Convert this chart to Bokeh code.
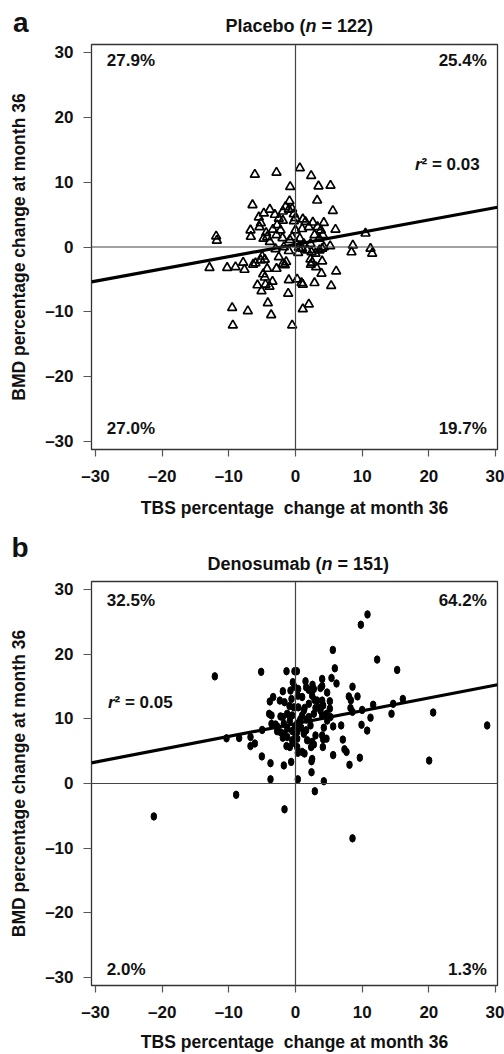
from bokeh.plotting import figure
from bokeh.layouts import column
from bokeh.models import Span, Label, FixedTicker, Range1d
from bokeh.embed import file_html
from bokeh.resources import INLINE

# ---------------- data ----------------
ticks = [-30, -20, -10, 0, 10, 20, 30]
tick_labels = ["\u201330", "\u201320", "\u201310", "0", "10", "20", "30"]

placebo_n = 122
placebo_tbs = [-6.1, -2.85, 0.65, 2.35, -0.8, 3.45, 5.25, 3.25, -6.45, -0.9, 5.6, -3.85, -4.75, -5.5, -3.1,
               -1.9, -1.5, -1.0, -0.5, -0.25, -1.9, 0.0, 1.1, 1.5, 2.6, 3.3, 4.25, -5.4, -2.75, -3.4,
               -6.75, -6.7, -4.4, -2.85, -1.95, -4.8, -3.85, -0.85, 0.0, 0.65, 2.0, 2.85, 3.8, 4.1, 6.0,
               3.55, -11.9, -11.8, 10.5, 5.2, 8.6, 8.4, 11.25, 11.5, 1.0, 1.75, 2.4, 3.6, -1.0, 0.15,
               1.25, 2.25, -5.0, -5.2, -4.6, -2.5, -6.35, -6.0, -7.85, -7.65, -9.0, -10.25, -12.9, -1.9, -1.6,
               -1.4, -2.85, -4.25, -4.85, -4.6, -3.45, -5.7, -4.5, -3.9, -5.1, -1.0, -1.1, 0.25, 0.9, 1.1,
               2.25, 2.5, 2.3, 4.0, 3.1, 3.9, 6.1, 2.85, 5.35, -4.15, -3.65, -9.5, -7.15, -9.4, -0.5,
               1.1, 2.0, 4.0, 3.0, -2.25, -4.25, -0.5, 0.5, -5.2, -2.5, 1.0, -0.25, 4.25, -1.75, 0.4, -3.0]
placebo_bmd = [11.2, 11.5, 12.2, 11.0, 9.3, 9.4, 9.5, 7.2, 6.5, 7.1, 5.6, 5.8, 5.2, 4.6, 5.0,
               5.5, 6.2, 5.8, 5.9, 5.1, 4.1, 4.5, 4.3, 3.9, 3.8, 3.1, 3.75, 3.1, 3.4, 2.7,
               2.6, 1.6, 2.2, 1.85, 1.4, 1.3, 0.8, 1.1, 2.6, 1.3, 3.1, 1.85, 2.6, 1.85, 2.7,
               1.3, 1.65, 1.0, 2.1, 0.15, 0.25, -0.8, -0.25, -1.0, -0.25, -0.5, -0.8, -0.5, -0.6, 0.5,
               0.5, 0.5, -1.45, -2.05, -1.95, -1.55, -2.7, -2.5, -2.4, -3.5, -3.1, -3.2, -3.2, -2.6, -2.8,
               -2.3, -3.35, -3.35, -4.2, -4.7, -5.35, -5.9, -5.8, -6.1, -6.8, -5.1, -7.2, -5.0, -5.55, -5.8,
               -1.9, -2.4, -2.7, -2.2, -3.1, -4.1, -3.75, -5.55, -6.0, -8.65, -10.5, -9.4, -9.9, -12.1, -12.1,
               -9.6, -8.85, -0.25, -1.0, 2.6, 1.55, 1.55, -0.1, 3.7, 4.4, 2.8, 4.0, 0.0, 0.0, -0.9, -0.3]
placebo_fit_x = [-30.6, 30.3]
placebo_fit_y = [-5.4, 6.15]
placebo_quadrants = ["27.9%", "25.4%", "27.0%", "19.7%"]
placebo_r2 = "0.03"

denos_n = 151
denos_tbs = [-21.25, -12.1, -8.9, -1.65, 2.9, 8.55, 10.8, 9.8, 5.6, 12.25, 15.25, 20.65, 20.05, 28.75, -5.15,
             -1.35, -0.15, 0.2, 16.1, 14.65, 14.4, 11.65, 11.25, 9.9, 10.75, 9.65, 8.1, 7.65, 7.35, 7.1,
             6.85, 5.65, 4.25, 2.4, 2.4, 2.5, 0.35, -3.75, -3.75, -1.75, -0.65, -5.05, -10.35, -8.45, -6.75,
             -6.75, -6.1, -5.0, 8.55, 9.3, 8.0, 8.3, 8.25, 8.55, 10.0, 5.9, 4.0, 5.4, 6.15, 4.75,
             4.0, 3.75, 2.55, 2.75, 1.5, 1.6, 2.0, -0.4, -0.15, -0.75, -1.9, -3.35, -3.85, -2.35, -1.65,
             -0.6, 0.35, 1.0, -0.9, -0.25, 1.35, 2.0, 2.85, 4.0, 4.15, 5.15, 5.15, 3.0, 2.75, 4.0,
             4.65, 5.25, 5.65, 4.25, 1.25, 1.0, 0.75, 1.65, 0.25, 0.85, 0.25, -0.85, -1.75, -2.25, -3.95,
             -3.6, -3.6, -3.0, -2.75, -1.25, -1.75, -1.9, -1.25, 0.0, 0.25, -1.35, -0.85, 0.25, 0.35, 1.0,
             1.35, 2.35, 2.5, 3.0, 4.0, 4.15, 4.65, 4.1, 2.75, 1.6, -0.5, -0.5, 0.4, 0.4, 2.5,
             3.25, 3.75, 4.75, -0.1, -0.5, -1.25, -1.9, 2.0, 2.25, 1.25, 1.75, -2.25, -2.75, 3.4, 0.6, -0.3]
denos_bmd = [-5.1, 16.6, -1.75, -4.0, -1.2, -8.5, 26.2, 24.6, 20.7, 19.2, 17.6, 11.0, 3.55, 9.0, 17.3,
             17.4, 17.4, 17.4, 13.1, 12.35, 10.8, 12.2, 10.2, 9.1, 8.2, 4.0, 2.9, 4.9, 5.3, 6.8,
             9.0, 4.4, 0.35, 1.75, 3.45, 3.8, 0.65, 0.65, 3.15, 2.8, 3.35, 4.2, 7.0, 7.05, 7.2,
             5.8, 6.2, 8.3, 15.0, 13.5, 13.5, 12.9, 11.7, 11.1, 11.4, 17.85, 16.2, 16.35, 15.5, 14.1,
             15.1, 14.8, 15.3, 14.65, 15.85, 14.9, 14.5, 15.7, 15.0, 14.4, 14.3, 13.4, 12.7, 12.85, 12.6,
             13.1, 13.6, 13.4, 12.0, 11.8, 11.7, 12.35, 12.95, 12.85, 12.1, 12.75, 11.6, 11.7, 10.8, 10.55,
             10.8, 10.3, 8.85, 8.65, 11.3, 10.55, 10.0, 9.9, 9.25, 8.65, 8.0, 9.75, 9.25, 10.4, 10.8,
             10.55, 9.25, 9.15, 8.85, 8.5, 7.7, 7.1, 7.2, 7.45, 6.95, 5.8, 5.65, 5.65, 4.75, 4.9,
             4.65, 5.65, 6.45, 7.45, 7.45, 6.85, 6.95, 5.65, 6.05, 8.25, 8.15, 10.55, 11.8, 14.65, 13.6,
             12.85, 11.3, 9.75, 8.65, 6.7, 10.8, 10.3, 10.3, 9.0, 7.7, 6.7, 7.95, 8.1, 11.8, 9.6, 6.3]
denos_fit_x = [-30.6, 30.3]
denos_fit_y = [3.2, 15.3]
denos_quadrants = ["32.5%", "64.2%", "2.0%", "1.3%"]
denos_r2 = "0.05"

FONT = "Liberation Sans"
X_RANGE = (-30.6, 30.3)
Y_RANGE = (-31.3, 31.3)
W = 504
LEFT = 91
RIGHT = 7
NB = "\u00a0"


def lab(p, x, y, text, size="17px", align="left", style="bold"):
    p.add_layout(Label(x=x, y=y, text=text, text_font=FONT, text_font_size=size,
                       text_font_style=style, text_align=align, text_baseline="alphabetic",
                       text_color="#111111"))


def make_header(height, letter, letter_y, name, n, n_left, n_right, title_base):
    # frame spans page x = LEFT .. W-RIGHT (aligned with the panels), y = 0 .. height (top down)
    h = figure(width=W, height=height, x_range=Range1d(LEFT, W - RIGHT), y_range=Range1d(height, 0),
               output_backend="svg", toolbar_location=None, x_axis_location=None,
               y_axis_location="left", min_border_left=LEFT, min_border_right=RIGHT,
               min_border_top=0, min_border_bottom=0)
    h.outline_line_color = None
    h.grid.visible = False
    h.background_fill_color = "white"
    h.border_fill_color = "white"
    ax = h.yaxis[0]
    ax.ticker = FixedTicker(ticks=[letter_y])
    ax.major_label_overrides = {letter_y: letter}
    ax.major_tick_line_color = None
    ax.minor_tick_line_color = None
    ax.axis_line_color = None
    ax.major_tick_out = 0
    ax.major_tick_in = 0
    ax.major_label_standoff = 63
    ax.major_label_text_font = FONT
    ax.major_label_text_font_style = "bold"
    ax.major_label_text_font_size = "28px"
    ax.major_label_text_color = "#111111"
    lab(h, n_left, title_base, name + " (", size="18px", align="right")
    lab(h, n_left, title_base, "n", size="18px", style="bold italic")
    lab(h, n_right, title_base, NB + "=" + NB + str(n) + ")", size="18px")
    return h


def make_panel(height, top, bottom, quads, quad_y, r2, r2_xy, xlab_standoff):
    p = figure(width=W, height=height, x_range=Range1d(*X_RANGE), y_range=Range1d(*Y_RANGE),
               output_backend="svg", toolbar_location=None,
               min_border_left=LEFT, min_border_right=RIGHT, min_border_top=top, min_border_bottom=bottom)
    p.outline_line_color = "#333333"
    p.outline_line_width = 1.3
    p.grid.visible = False
    p.background_fill_color = "white"
    p.border_fill_color = "white"
    for ax in (p.xaxis[0], p.yaxis[0]):
        ax.ticker = FixedTicker(ticks=ticks)
        ax.major_label_overrides = dict(zip(ticks, tick_labels))
        ax.minor_tick_line_color = None
        ax.axis_line_color = None
        ax.major_tick_line_color = "#555555"
        ax.major_tick_line_width = 1.2
        ax.major_tick_in = 0
        ax.major_label_text_font = FONT
        ax.major_label_text_font_style = "bold"
        ax.major_label_text_font_size = "17px"
        ax.major_label_text_color = "#111111"
        ax.axis_label_text_font = FONT
        ax.axis_label_text_font_style = "bold"
        ax.axis_label_text_font_size = "17.5px"
        ax.axis_label_text_color = "#111111"
    p.xaxis.axis_label = "TBS percentage" + NB + " change at month 36"
    p.yaxis.axis_label = "BMD percentage change at month 36"
    p.xaxis.major_tick_out = 7
    p.yaxis.major_tick_out = 8
    p.xaxis.major_label_standoff = 10
    p.yaxis.major_label_standoff = 10
    p.xaxis.axis_label_standoff = xlab_standoff
    p.yaxis.axis_label_standoff = 13

    p.add_layout(Span(location=0, dimension="height", line_color="#444444", line_width=1.2))
    p.add_layout(Span(location=0, dimension="width", line_color="#444444", line_width=1.2))

    lab(p, -28.3, quad_y[0], quads[0])
    lab(p, 28.7, quad_y[0], quads[1], align="right")
    lab(p, -28.3, quad_y[1], quads[2])
    lab(p, 28.7, quad_y[1], quads[3], align="right")

    lab(p, r2_xy[0], r2_xy[1], "r", align="right", style="bold italic")
    lab(p, r2_xy[0], r2_xy[1], "\u00b2" + NB + "=" + NB + r2, align="left")
    return p


ha = make_header(42, "a", 22, "Placebo", placebo_n, 305, 316, 25.7)
pa = make_panel(480, 2, 73, placebo_quadrants, (28.8, -28.1), placebo_r2, (18.9, 12.8), 9)
pa.line(placebo_fit_x, placebo_fit_y, line_color="black", line_width=3.2)
pa.scatter(placebo_tbs, placebo_bmd, marker="triangle", size=9, fill_color=None,
           line_color="black", line_width=1.7)

hb = make_header(57, "b", 25, "Denosumab", denos_n, 321, 332, 41.3)
pb = make_panel(475, 2, 67, denos_quadrants, (28.3, -28.8), denos_r2, (-27.15, 12.5), 7)
pb.line(denos_fit_x, denos_fit_y, line_color="black", line_width=3.2)
pb.ellipse(x=denos_tbs, y=denos_bmd, width=5.5, height=7.5, width_units="screen",
           height_units="screen", fill_color="black", line_color="black")

layout = column(ha, pa, hb, pb)
open("out.html", "w").write(file_html(layout, INLINE))
